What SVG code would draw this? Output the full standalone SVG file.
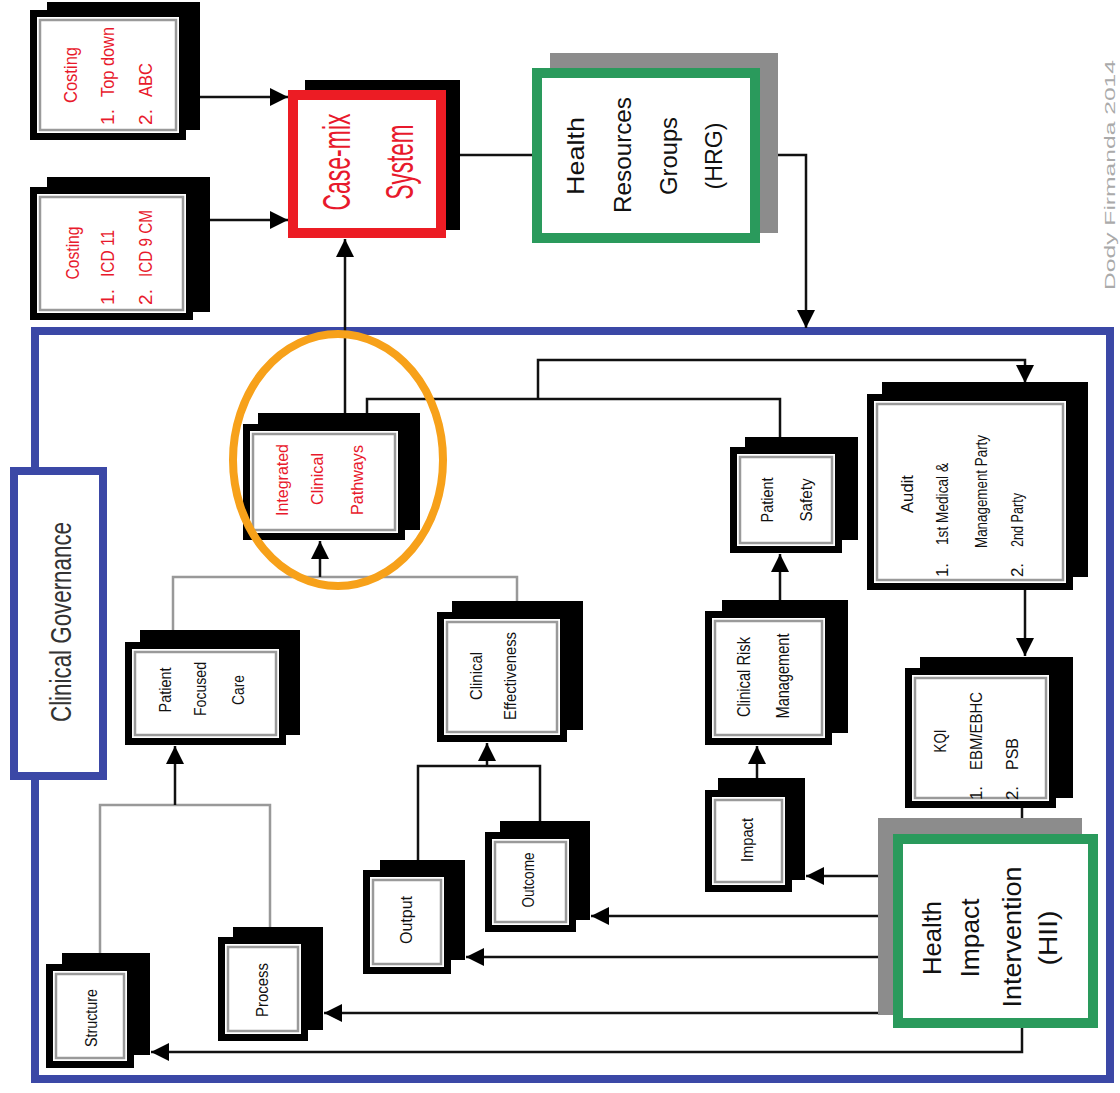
<svg xmlns="http://www.w3.org/2000/svg" width="1120" height="1093" viewBox="0 0 1120 1093">
<style>
.sh{fill:#000}
.fr{fill:#fff;stroke:#000;stroke-width:7}
.in{fill:none;stroke:#9a9a9a;stroke-width:2.5}
.t{font-family:"Liberation Sans",Arial,sans-serif;dominant-baseline:central;fill:#111}
.r{fill:#e8192c}
.ln{fill:none;stroke:#111;stroke-width:2.5}
.lg{fill:none;stroke:#999;stroke-width:2.5}
</style>
<defs>
<marker id="ah" markerUnits="userSpaceOnUse" markerWidth="20" markerHeight="20" refX="18" refY="9" orient="auto"><path d="M0,0 L18,9 L0,18 z" fill="#000"/></marker>
</defs>
<rect width="1120" height="1093" fill="#fff"/>

<!-- outer frame -->
<rect id="frame" x="35" y="331" width="1075" height="748" fill="none" stroke="#3b48a6" stroke-width="8"/>

<g id="connectors">
<path class="ln" d="M200,97 H288" marker-end="url(#ah)"/>
<path class="ln" d="M210,220 H288" marker-end="url(#ah)"/>
<path class="ln" d="M460,155 H532"/>
<path class="ln" d="M778,155 H806 V328" marker-end="url(#ah)"/>
<path class="ln" d="M345,413 V239" marker-end="url(#ah)"/>
<path class="ln" d="M367,413 V399 H780 V437"/>
<path class="ln" d="M538,399 V360 H1025 V383" marker-end="url(#ah)"/>
<path class="lg" d="M173,630 V577 H517 V601"/>
<path class="ln" d="M320,577 V541" marker-end="url(#ah)"/>
<path class="lg" d="M100,953 V805 H270 V927"/>
<path class="ln" d="M175,805 V746" marker-end="url(#ah)"/>
<path class="ln" d="M418,860 V766 H540 V821"/>
<path class="ln" d="M487,766 V743" marker-end="url(#ah)"/>
<path class="ln" d="M757,778 V746" marker-end="url(#ah)"/>
<path class="ln" d="M780,600 V554" marker-end="url(#ah)"/>
<path class="ln" d="M1025,590 V656" marker-end="url(#ah)"/>
<path class="ln" d="M1022,808 V818"/>
<path class="ln" d="M878,876 H806" marker-end="url(#ah)"/>
<path class="ln" d="M878,916 H591" marker-end="url(#ah)"/>
<path class="ln" d="M878,957 H466" marker-end="url(#ah)"/>
<path class="ln" d="M878,1013 H324" marker-end="url(#ah)"/>
<path class="ln" d="M1022,1028 V1052 H151" marker-end="url(#ah)"/>
</g>

<g id="costing-topdown">
<rect class="sh" x="47" y="2" width="153" height="128"/>
<rect class="fr" x="33.5" y="13.5" width="149" height="123"/>
<rect class="in" x="40" y="20" width="136" height="110"/>
<text class="t r" font-size="19" text-anchor="middle" textLength="56" lengthAdjust="spacingAndGlyphs" transform="translate(70,75) rotate(-90)">Costing</text>
<text class="t r" font-size="19" text-anchor="middle" transform="translate(107,117) rotate(-90)">1.</text>
<text class="t r" font-size="19" text-anchor="start" textLength="70" lengthAdjust="spacingAndGlyphs" transform="translate(107,97) rotate(-90)">Top down</text>
<text class="t r" font-size="19" text-anchor="middle" transform="translate(145,117) rotate(-90)">2.</text>
<text class="t r" font-size="19" text-anchor="start" textLength="34" lengthAdjust="spacingAndGlyphs" transform="translate(145,97) rotate(-90)">ABC</text>
</g>

<g id="costing-icd">
<rect class="sh" x="47" y="177" width="163" height="135"/>
<rect class="fr" x="33.5" y="190.5" width="156" height="126"/>
<rect class="in" x="40" y="197" width="143" height="113"/>
<text class="t r" font-size="19" text-anchor="middle" textLength="53" lengthAdjust="spacingAndGlyphs" transform="translate(72,253) rotate(-90)">Costing</text>
<text class="t r" font-size="19" text-anchor="middle" transform="translate(107,297) rotate(-90)">1.</text>
<text class="t r" font-size="19" text-anchor="start" textLength="47" lengthAdjust="spacingAndGlyphs" transform="translate(107,277) rotate(-90)">ICD 11</text>
<text class="t r" font-size="19" text-anchor="middle" transform="translate(145,297) rotate(-90)">2.</text>
<text class="t r" font-size="19" text-anchor="start" textLength="67" lengthAdjust="spacingAndGlyphs" transform="translate(145,277) rotate(-90)">ICD 9 CM</text>
</g>

<g id="casemix">
<rect class="sh" x="305" y="80" width="155" height="150"/>
<rect x="293" y="95" width="148" height="138" fill="#fff" stroke="#ec1c24" stroke-width="10"/>
<text class="t r" font-size="38" text-anchor="middle" textLength="97" lengthAdjust="spacingAndGlyphs" transform="translate(337,162) rotate(-90)">Case-mix</text>
<text class="t r" font-size="38" text-anchor="middle" textLength="75" lengthAdjust="spacingAndGlyphs" transform="translate(400,162) rotate(-90)">System</text>
</g>

<g id="hrg">
<rect x="550" y="53" width="228" height="180" fill="#8c8c8c"/>
<rect x="537" y="73" width="218" height="165" fill="#fff" stroke="#2a9a5c" stroke-width="10"/>
<text class="t" font-size="24" text-anchor="middle" textLength="78" lengthAdjust="spacingAndGlyphs" transform="translate(575,156) rotate(-90)">Health</text>
<text class="t" font-size="24" text-anchor="middle" textLength="116" lengthAdjust="spacingAndGlyphs" transform="translate(622,155) rotate(-90)">Resources</text>
<text class="t" font-size="24" text-anchor="middle" textLength="78" lengthAdjust="spacingAndGlyphs" transform="translate(668,156) rotate(-90)">Groups</text>
<text class="t" font-size="24" text-anchor="middle" textLength="67" lengthAdjust="spacingAndGlyphs" transform="translate(713,156) rotate(-90)">(HRG)</text>
</g>

<g id="clinical-governance">
<rect x="14" y="471" width="89" height="305" fill="#fff" stroke="#3b48a6" stroke-width="8"/>
<text class="t" font-size="30" style="fill:#333" text-anchor="middle" textLength="200" lengthAdjust="spacingAndGlyphs" transform="translate(60,622) rotate(-90)">Clinical Governance</text>
</g>

<g id="icp">
<rect class="sh" x="258" y="413" width="162" height="117"/>
<rect class="fr" x="246.5" y="427.5" width="155" height="109"/>
<rect class="in" x="253" y="434" width="142" height="96"/>
<text class="t r" font-size="17" text-anchor="middle" textLength="72" lengthAdjust="spacingAndGlyphs" transform="translate(282,480) rotate(-90)">Integrated</text>
<text class="t r" font-size="17" text-anchor="middle" textLength="52" lengthAdjust="spacingAndGlyphs" transform="translate(317,479) rotate(-90)">Clinical</text>
<text class="t r" font-size="17" text-anchor="middle" textLength="70" lengthAdjust="spacingAndGlyphs" transform="translate(357,480) rotate(-90)">Pathways</text>
</g>

<g id="pfc">
<rect class="sh" x="140" y="630" width="160" height="105"/>
<rect class="fr" x="128.5" y="645.5" width="154" height="96"/>
<rect class="in" x="135" y="652" width="141" height="83"/>
<text class="t" font-size="17" text-anchor="middle" textLength="45" lengthAdjust="spacingAndGlyphs" transform="translate(165,690) rotate(-90)">Patient</text>
<text class="t" font-size="17" text-anchor="middle" textLength="54" lengthAdjust="spacingAndGlyphs" transform="translate(200,689) rotate(-90)">Focused</text>
<text class="t" font-size="17" text-anchor="middle" textLength="30" lengthAdjust="spacingAndGlyphs" transform="translate(238,690) rotate(-90)">Care</text>
</g>

<g id="ce">
<rect class="sh" x="452" y="601" width="131" height="129"/>
<rect class="fr" x="440.5" y="615.5" width="123" height="123"/>
<rect class="in" x="447" y="622" width="110" height="110"/>
<text class="t" font-size="17" text-anchor="middle" textLength="48" lengthAdjust="spacingAndGlyphs" transform="translate(476,676) rotate(-90)">Clinical</text>
<text class="t" font-size="17" text-anchor="middle" textLength="88" lengthAdjust="spacingAndGlyphs" transform="translate(510,676) rotate(-90)">Effectiveness</text>
</g>

<g id="ps">
<rect class="sh" x="745" y="437" width="113" height="103"/>
<rect class="fr" x="733.5" y="450.5" width="105" height="99"/>
<rect class="in" x="740" y="457" width="92" height="86"/>
<text class="t" font-size="17" text-anchor="middle" textLength="45" lengthAdjust="spacingAndGlyphs" transform="translate(767,500) rotate(-90)">Patient</text>
<text class="t" font-size="17" text-anchor="middle" textLength="43" lengthAdjust="spacingAndGlyphs" transform="translate(806,500) rotate(-90)">Safety</text>
</g>

<g id="crm">
<rect class="sh" x="722" y="600" width="126" height="133"/>
<rect class="fr" x="708.5" y="614.5" width="120" height="127"/>
<rect class="in" x="715" y="621" width="107" height="114"/>
<text class="t" font-size="18" text-anchor="middle" textLength="80" lengthAdjust="spacingAndGlyphs" transform="translate(744,677) rotate(-90)">Clinical Risk</text>
<text class="t" font-size="18" text-anchor="middle" textLength="85" lengthAdjust="spacingAndGlyphs" transform="translate(783,676) rotate(-90)">Management</text>
</g>

<g id="audit">
<rect class="sh" x="882" y="382" width="206" height="195"/>
<rect class="fr" x="870.5" y="397.5" width="199" height="189"/>
<rect class="in" x="877" y="404" width="186" height="176"/>
<text class="t" font-size="17" text-anchor="middle" textLength="38" lengthAdjust="spacingAndGlyphs" transform="translate(907,494) rotate(-90)">Audit</text>
<text class="t" font-size="17" text-anchor="middle" transform="translate(942,570) rotate(-90)">1.</text>
<text class="t" font-size="17" text-anchor="start" textLength="82" lengthAdjust="spacingAndGlyphs" transform="translate(942,545) rotate(-90)">1st Medical &amp;</text>
<text class="t" font-size="17" text-anchor="start" textLength="113" lengthAdjust="spacingAndGlyphs" transform="translate(981,548) rotate(-90)">Management Party</text>
<text class="t" font-size="17" text-anchor="middle" transform="translate(1017,570) rotate(-90)">2.</text>
<text class="t" font-size="17" text-anchor="start" textLength="54" lengthAdjust="spacingAndGlyphs" transform="translate(1017,547) rotate(-90)">2nd Party</text>
</g>

<g id="kqi">
<rect class="sh" x="920" y="657" width="153" height="141"/>
<rect class="fr" x="908.5" y="671.5" width="144" height="133"/>
<rect class="in" x="915" y="678" width="131" height="120"/>
<text class="t" font-size="17" text-anchor="middle" textLength="23" lengthAdjust="spacingAndGlyphs" transform="translate(940,741) rotate(-90)">KQI</text>
<text class="t" font-size="17" text-anchor="middle" transform="translate(976,793) rotate(-90)">1.</text>
<text class="t" font-size="17" text-anchor="start" textLength="78" lengthAdjust="spacingAndGlyphs" transform="translate(976,770) rotate(-90)">EBM/EBHC</text>
<text class="t" font-size="17" text-anchor="middle" transform="translate(1012,793) rotate(-90)">2.</text>
<text class="t" font-size="17" text-anchor="start" textLength="32" lengthAdjust="spacingAndGlyphs" transform="translate(1012,770) rotate(-90)">PSB</text>
</g>

<g id="impact">
<rect class="sh" x="718" y="778" width="87" height="102"/>
<rect class="fr" x="708.5" y="793.5" width="80" height="95"/>
<rect class="in" x="715" y="800" width="67" height="82"/>
<text class="t" font-size="17" text-anchor="middle" textLength="44" lengthAdjust="spacingAndGlyphs" transform="translate(747,840) rotate(-90)">Impact</text>
</g>

<g id="outcome">
<rect class="sh" x="500" y="821" width="90" height="99"/>
<rect class="fr" x="488.5" y="835.5" width="84" height="93"/>
<rect class="in" x="495" y="842" width="71" height="80"/>
<text class="t" font-size="17" text-anchor="middle" textLength="55" lengthAdjust="spacingAndGlyphs" transform="translate(528,880) rotate(-90)">Outcome</text>
</g>

<g id="output">
<rect class="sh" x="380" y="860" width="85" height="100"/>
<rect class="fr" x="366.5" y="873.5" width="81" height="97"/>
<rect class="in" x="373" y="880" width="68" height="84"/>
<text class="t" font-size="17" text-anchor="middle" textLength="48" lengthAdjust="spacingAndGlyphs" transform="translate(406,920) rotate(-90)">Output</text>
</g>

<g id="process">
<rect class="sh" x="233" y="927" width="90" height="103"/>
<rect class="fr" x="221.5" y="940.5" width="83" height="97"/>
<rect class="in" x="228" y="947" width="70" height="84"/>
<text class="t" font-size="17" text-anchor="middle" textLength="54" lengthAdjust="spacingAndGlyphs" transform="translate(262,990) rotate(-90)">Process</text>
</g>

<g id="structure">
<rect class="sh" x="62" y="953" width="88" height="102"/>
<rect class="fr" x="49.5" y="967.5" width="81" height="97"/>
<rect class="in" x="56" y="974" width="68" height="84"/>
<text class="t" font-size="17" text-anchor="middle" textLength="58" lengthAdjust="spacingAndGlyphs" transform="translate(91,1018) rotate(-90)">Structure</text>
</g>

<g id="hii">
<rect x="878" y="818" width="204" height="197" fill="#8c8c8c"/>
<rect x="898" y="839" width="195" height="184" fill="#fff" stroke="#2a9a5c" stroke-width="10"/>
<text class="t" font-size="26" text-anchor="middle" textLength="74" lengthAdjust="spacingAndGlyphs" transform="translate(932,938) rotate(-90)">Health</text>
<text class="t" font-size="26" text-anchor="middle" textLength="79" lengthAdjust="spacingAndGlyphs" transform="translate(970,938) rotate(-90)">Impact</text>
<text class="t" font-size="26" text-anchor="middle" textLength="141" lengthAdjust="spacingAndGlyphs" transform="translate(1012,937) rotate(-90)">Intervention</text>
<text class="t" font-size="26" text-anchor="middle" textLength="55" lengthAdjust="spacingAndGlyphs" transform="translate(1048,938) rotate(-90)">(HII)</text>
</g>

<ellipse id="highlight" cx="338" cy="460" rx="105" ry="126" fill="none" stroke="#f7a11a" stroke-width="8"/>

<text class="t" font-size="15" style="fill:#aaaaaa" text-anchor="middle" textLength="230" lengthAdjust="spacingAndGlyphs" transform="translate(1109,175) rotate(-90)">Dody Firmanda 2014</text>
</svg>
